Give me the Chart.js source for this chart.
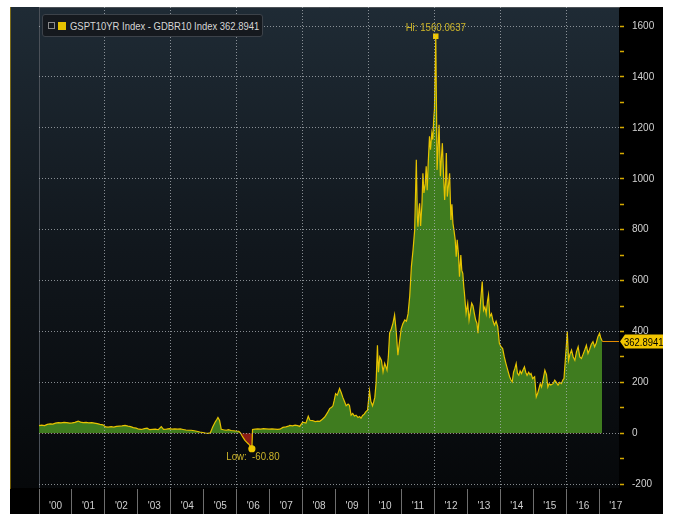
<!DOCTYPE html>
<html>
<head>
<meta charset="utf-8">
<script src="https://cdn.jsdelivr.net/npm/chart.js@4.4.1/dist/chart.umd.min.js"></script>
<style>
  html, body { margin: 0; padding: 0; background: #fff; }
  #wrap { position: absolute; left: 10px; top: 7px; width: 653px; height: 507px; background: #000; }
  #legend {
    position: absolute; left: 32px; top: 7px; width: 208px; height: 21px; padding: 0 6px 0 5px;
    background: #15191e; border: 1px solid #3c4249; border-radius: 3px;
    display: flex; align-items: center; color: #d6d6d6; overflow: hidden; white-space: nowrap;
    font: 11px 'Liberation Sans', Arial, sans-serif;
  }
  #legend .ico { flex: none; width: 5px; height: 5px; border: 1px solid #8a8a8a; margin-right: 3px; }
  #legend .sw { flex: none; width: 8px; height: 8px; background: #e6c300; margin-right: 4px; }
  #legendText { display: inline-block; transform: scaleX(0.86); transform-origin: left center; }
</style>
</head>
<body>
<div id="wrap">
  <canvas id="spreadChart"></canvas>
  <div id="legend"><span class="ico"></span><span class="sw"></span><span id="legendText"></span></div>
</div>
<script>
// Data (bp, decimal year)
const seriesName = 'GSPT10YR Index - GDBR10 Index';

const dates = [
  2000.00, 2000.08, 2000.17, 2000.25, 2000.34, 2000.42, 2000.50, 2000.59, 2000.67, 2000.76, 2000.84, 2000.93,
  2001.01, 2001.09, 2001.19, 2001.26, 2001.34, 2001.43, 2001.51, 2001.60, 2001.68, 2001.77, 2001.85, 2001.94,
  2002.02, 2002.10, 2002.19, 2002.27, 2002.35, 2002.44, 2002.52, 2002.61, 2002.70, 2002.78, 2002.86, 2002.95,
  2003.03, 2003.11, 2003.20, 2003.28, 2003.36, 2003.45, 2003.53, 2003.62, 2003.71, 2003.78, 2003.87, 2003.96,
  2004.04, 2004.12, 2004.21, 2004.29, 2004.37, 2004.46, 2004.54, 2004.62, 2004.71, 2004.79, 2004.88, 2004.97,
  2005.05, 2005.13, 2005.20, 2005.27, 2005.35, 2005.40, 2005.43, 2005.48, 2005.53, 2005.60, 2005.68, 2005.75, 2005.83, 2005.90, 2005.97,
  2006.06, 2006.11, 2006.15, 2006.20, 2006.25, 2006.30, 2006.35, 2006.40, 2006.46, 2006.48, 2006.56, 2006.64, 2006.73, 2006.81, 2006.89, 2006.98,
  2007.07, 2007.15, 2007.24, 2007.31, 2007.40, 2007.49, 2007.57, 2007.61, 2007.69, 2007.77, 2007.85, 2007.91, 2008.00,
  2008.10, 2008.17, 2008.22, 2008.30, 2008.38, 2008.46, 2008.52, 2008.60, 2008.67, 2008.75, 2008.82, 2008.88, 2008.92, 2008.96, 2009.00, 2009.05,
  2009.12, 2009.17, 2009.22, 2009.27, 2009.32, 2009.38, 2009.42, 2009.47, 2009.52, 2009.57, 2009.62, 2009.68, 2009.73, 2009.77, 2009.82, 2009.87, 2009.92, 2009.97,
  2010.03, 2010.07, 2010.12, 2010.16, 2010.19, 2010.23, 2010.27, 2010.30, 2010.34, 2010.39, 2010.44, 2010.49, 2010.53, 2010.56, 2010.60, 2010.64, 2010.69, 2010.74, 2010.79, 2010.84, 2010.89, 2010.94, 2010.99,
  2011.04, 2011.10, 2011.15, 2011.20, 2011.25, 2011.30, 2011.35, 2011.40, 2011.45, 2011.48, 2011.50, 2011.53, 2011.55, 2011.58, 2011.62, 2011.65, 2011.68, 2011.72, 2011.75, 2011.78, 2011.81, 2011.85, 2011.88, 2011.92, 2011.95, 2011.98,
  2012.00, 2012.04, 2012.08, 2012.11, 2012.14, 2012.18, 2012.21, 2012.24, 2012.28, 2012.31, 2012.34, 2012.36, 2012.39, 2012.43, 2012.46, 2012.50, 2012.53, 2012.56, 2012.59, 2012.63, 2012.66, 2012.69, 2012.73, 2012.76, 2012.80, 2012.83, 2012.86, 2012.89, 2012.91, 2012.96,
  2013.01, 2013.05, 2013.09, 2013.13, 2013.17, 2013.21, 2013.25, 2013.29, 2013.32, 2013.36, 2013.40, 2013.45, 2013.49, 2013.53, 2013.57, 2013.61, 2013.64, 2013.68, 2013.73, 2013.78, 2013.82, 2013.87, 2013.92, 2013.97,
  2014.02, 2014.07, 2014.12, 2014.17, 2014.22, 2014.28, 2014.32, 2014.36, 2014.40, 2014.44, 2014.48, 2014.52, 2014.56, 2014.60, 2014.64, 2014.69, 2014.73, 2014.77, 2014.81, 2014.86, 2014.90, 2014.93, 2014.98,
  2015.04, 2015.09, 2015.13, 2015.17, 2015.21, 2015.25, 2015.31, 2015.35, 2015.40, 2015.44, 2015.48, 2015.53, 2015.60, 2015.65, 2015.70, 2015.75, 2015.80, 2015.85, 2015.90, 2015.93,
  2016.00, 2016.03, 2016.07, 2016.11, 2016.16, 2016.21, 2016.26, 2016.31, 2016.36, 2016.41, 2016.46, 2016.51, 2016.56, 2016.61, 2016.66, 2016.71, 2016.76, 2016.81, 2016.86, 2016.91, 2016.96,
  2017.01, 2017.05, 2017.09
];

const spread = [
  30, 32, 30, 35, 37, 36, 40, 42, 41, 43, 42, 40,
  41, 43, 48, 44, 42, 43, 41, 42, 40, 38, 35, 33,
  25, 24, 26, 24, 27, 28, 29, 31, 28, 26, 22, 20,
  16, 15, 18, 20, 14, 15, 16, 14, 26, 15, 16, 18,
  16, 17, 16, 17, 15, 13, 12, 12, 10, 8, 5, 3,
  1, 0, 2, 25, 45, 55, 62, 50, 16, 14, 12, 14, 11, 10, 9,
  8, 2, -8, -18, -28, -35, -41, -48, -60.8, 15, 16, 17, 16, 18, 17, 16,
  17, 16, 15, 16, 23, 25, 28, 31, 29, 32, 30, 27, 44,
  40, 67, 51, 50, 46, 48, 47, 55, 64, 80, 97, 102, 108, 130, 156, 150,
  176, 160, 141, 125, 108, 115, 110, 71, 78, 68, 71, 62, 66, 59, 70, 75, 85, 91,
  167, 125, 108, 125, 141, 200, 346, 240, 300, 287, 241, 275, 260, 248, 300, 394, 410, 432, 465, 400, 307, 360, 410,
  430, 445, 440, 470, 540, 655, 720, 800, 1075, 850, 812, 880, 904, 815, 900, 1022, 944, 980, 1049, 955, 1060, 1167, 1114, 1180, 1154, 1240,
  1272, 1560.0637, 1035, 1120, 1212, 1010, 1080, 1140, 1000, 917, 1000, 1101, 930, 980, 1022, 838, 900, 825, 800, 760, 694, 760, 700, 615, 700, 640, 628, 576, 550, 471,
  510, 445, 480, 511, 500, 471, 445, 432, 393, 458, 520, 596, 484, 497, 470, 520, 543, 458, 470, 440, 425, 440, 419, 353,
  340, 333, 300, 274, 250, 222, 210, 202, 240, 255, 274, 235, 228, 245, 235, 250, 261, 240, 228, 240, 230, 235, 215,
  222, 143, 156, 175, 195, 182, 220, 248, 230, 182, 195, 190, 195, 209, 200, 189, 200, 195, 210, 215,
  340, 399, 287, 310, 327, 300, 287, 320, 340, 300, 294, 310, 327, 346, 314, 330, 350, 360, 340, 355, 379,
  393, 373, 362.8941
];

const yearTicks = [2000, 2001, 2002, 2003, 2004, 2005, 2006, 2007, 2008, 2009, 2010, 2011, 2012, 2013, 2014, 2015, 2016, 2017];
const yearLabels = ["'00", "'01", "'02", "'03", "'04", "'05", "'06", "'07", "'08", "'09", "'10", "'11", "'12", "'13", "'14", "'15", "'16", "'17"];
const valueTicks = [-200, -100, 0, 100, 200, 300, 400, 500, 600, 700, 800, 900, 1000, 1100, 1200, 1300, 1400, 1500, 1600];

const fontFam = "'Liberation Sans', Arial, sans-serif";
const gridColor = 'rgba(175,180,185,0.75)';
const lastIdx = spread.length - 1;
const hiIdx = spread.indexOf(Math.max(...spread));
const loIdx = spread.indexOf(Math.min(...spread));

document.getElementById('legendText').textContent = seriesName + ' ' + spread[lastIdx].toFixed(4);

// dark gradient behind the plot, black behind the axes
const background = {
  id: 'background',
  beforeDraw(chart) {
    const {ctx, chartArea, width, height} = chart;
    ctx.save();
    ctx.fillStyle = '#000';
    ctx.fillRect(0, 0, width, height);
    const g = ctx.createLinearGradient(0, chartArea.top, 0, chartArea.bottom);
    g.addColorStop(0, '#1f2b35');
    g.addColorStop(0.5, '#11171d');
    g.addColorStop(1, '#06080a');
    ctx.fillStyle = g;
    ctx.fillRect(0, 0, chartArea.right, chartArea.bottom);
    // plain left edge of the plot
    ctx.strokeStyle = '#4a5058';
    ctx.beginPath();
    ctx.moveTo(chartArea.left + 0.5, chartArea.top);
    ctx.lineTo(chartArea.left + 0.5, chartArea.bottom);
    ctx.stroke();
    ctx.restore();
  }
};

function narrowText(c, text, x, y, sx) {
  c.save();
  c.translate(x, y);
  c.scale(sx, 1);
  c.fillText(text, 0, 0);
  c.restore();
}

// Hi / Low labels and the last value tag
const markers = {
  id: 'markers',
  afterDraw(chart) {
    const {ctx, chartArea, scales: {x, y}} = chart;
    ctx.save();
    ctx.font = '11px ' + fontFam;
    ctx.fillStyle = '#cdb52a';
    ctx.textAlign = 'center';
    ctx.textBaseline = 'bottom';
    narrowText(ctx, 'Hi: ' + spread[hiIdx].toFixed(4), x.getPixelForValue(dates[hiIdx]), y.getPixelForValue(spread[hiIdx]) - 3, 0.88);
    ctx.textBaseline = 'top';
    narrowText(ctx, 'Low:  ' + spread[loIdx].toFixed(2), x.getPixelForValue(dates[loIdx]) + 1, y.getPixelForValue(spread[loIdx]) + 3, 0.88);

    const lx = x.getPixelForValue(dates[lastIdx]);
    const ly = Math.round(y.getPixelForValue(spread[lastIdx])) + 0.5;
    ctx.strokeStyle = '#e38b00';
    ctx.lineWidth = 1;
    ctx.beginPath();
    ctx.moveTo(lx, ly);
    ctx.lineTo(chartArea.right, ly);
    ctx.stroke();

    const bx = chartArea.right + 1;
    ctx.fillStyle = '#f2c500';
    ctx.beginPath();
    ctx.moveTo(bx, ly);
    ctx.lineTo(bx + 5, ly - 7);
    ctx.lineTo(chart.width, ly - 7);
    ctx.lineTo(chart.width, ly + 7);
    ctx.lineTo(bx + 5, ly + 7);
    ctx.closePath();
    ctx.fill();
    ctx.fillStyle = '#000';
    ctx.textAlign = 'left';
    ctx.textBaseline = 'middle';
    narrowText(ctx, spread[lastIdx].toFixed(4), bx + 4, ly + 1, 0.86);
    ctx.restore();
  }
};

const ctx = document.getElementById('spreadChart').getContext('2d');
const spreadChart = new Chart(ctx, {
  type: 'line',
  data: {
    datasets: [{
      label: seriesName,
      data: dates.map((d, i) => ({x: d, y: spread[i]})),
      borderColor: '#e6c300',
      borderWidth: 1.2,
      tension: 0,
      fill: {target: {value: 0}, above: '#3f7c1f', below: '#8c1c16'},
      pointRadius: c => (c.dataIndex === hiIdx || c.dataIndex === loIdx) ? 3 : 0,
      pointStyle: c => c.dataIndex === hiIdx ? 'rect' : 'circle',
      pointBackgroundColor: '#f0c800',
      pointBorderColor: '#f0c800',
      pointHoverRadius: 0
    }]
  },
  options: {
    responsive: true,
    maintainAspectRatio: false,
    animation: false,
    layout: {padding: {left: 29, top: 0, right: 0, bottom: 0}},
    plugins: {legend: {display: false}, tooltip: {enabled: false}},
    scales: {
      x: {
        type: 'linear',
        min: 2000,
        max: 2017.6,
        afterBuildTicks: s => { s.ticks = yearTicks.map(v => ({value: v})); },
        afterFit: s => { s.height = 26; s.paddingLeft = 0; s.paddingRight = 0; },
        grid: {
          z: 1,
          color: c => (c.tick && c.tick.value % 2 === 0 && c.tick.value > 2000) ? gridColor : 'rgba(0,0,0,0)',
          tickColor: '#6e6e6e',
          tickLength: 26,
          tickBorderDash: []
        },
        border: {color: '#7a7a7a', width: 1, dash: [1, 2]},
        ticks: {
          autoSkip: false,
          maxRotation: 0,
          labelOffset: 16.5,
          padding: -14,
          color: '#cfcfcf',
          font: {family: fontFam, size: 10},
          callback: v => yearLabels[yearTicks.indexOf(v)]
        }
      },
      y: {
        position: 'right',
        min: -215,
        max: 1675,
        afterBuildTicks: s => { s.ticks = valueTicks.map(v => ({value: v})); },
        afterFit: s => { s.width = 44; s.paddingTop = 0; s.paddingBottom = 0; },
        grid: {
          z: 1,
          color: c => (c.tick && c.tick.value % 200 === 0) ? gridColor : 'rgba(0,0,0,0)',
          tickColor: '#d4a900',
          tickLength: 5,
          tickWidth: 1.5,
          tickBorderDash: []
        },
        border: {color: '#d4a900', width: 1, dash: [1, 2]},
        ticks: {
          padding: 8,
          color: '#d2d2d2',
          font: {family: fontFam, size: 10},
          callback: v => v % 200 === 0 ? String(v) : ''
        }
      }
    }
  },
  plugins: [background, markers]
});
</script>
</body>
</html>
